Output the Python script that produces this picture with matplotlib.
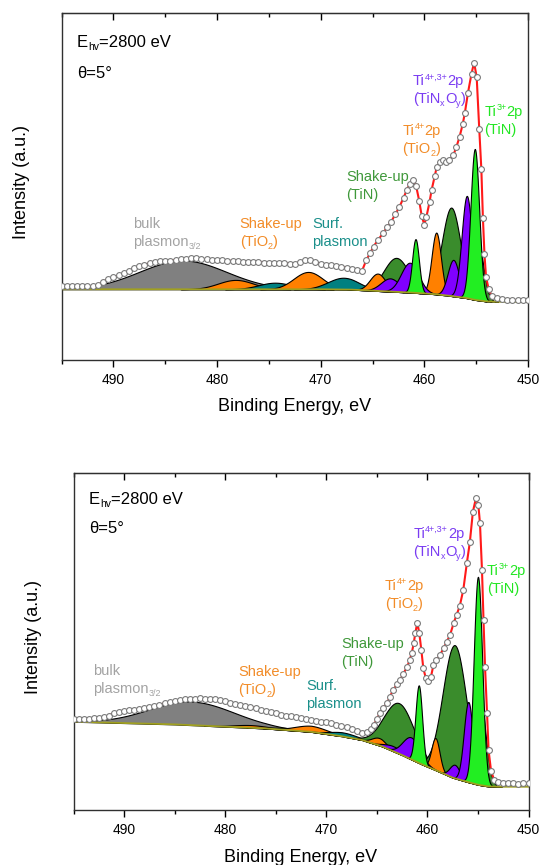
import numpy as np
import matplotlib.pyplot as plt
from matplotlib.ticker import MultipleLocator

plt.rcParams['font.family'] = ['Liberation Sans', 'DejaVu Sans']

# ---- measured spectra (binding energy, intensity in % of axis height) ----
e_top = [495.0, 494.5, 494.0, 493.5, 493.0, 492.5, 492.0, 491.5, 491.0, 490.5,
         490.0, 489.5, 489.0, 488.5, 488.0, 487.5, 487.0, 486.5, 486.0, 485.5,
         485.0, 484.5, 484.0, 483.5, 483.0, 482.5, 482.0, 481.5, 481.0, 480.5,
         480.0, 479.5, 479.0, 478.5, 478.0, 477.5, 477.0, 476.5, 476.0, 475.5,
         475.0, 474.5, 474.0, 473.5, 473.0, 472.5, 472.0, 471.5, 471.0, 470.5,
         470.0, 469.5, 469.0, 468.5, 468.0, 467.5, 467.0, 466.5, 466.0, 465.6,
         465.2, 464.9, 464.5, 464.0, 463.6, 463.2, 462.8, 462.4, 462.0, 461.7,
         461.4, 461.1, 460.8, 460.5, 460.25, 460.0, 459.8, 459.5, 459.3, 459.0,
         458.8, 458.5, 458.2, 457.9, 457.6, 457.2, 456.9, 456.6, 456.3, 456.1,
         455.8, 455.45, 455.2, 454.95, 454.7, 454.5, 454.35, 454.2, 454.05, 453.8,
         453.5, 453.0, 452.5, 452.0, 451.5, 451.0, 450.5, 450.0]
i_top = [21.3, 21.3, 21.2, 21.4, 21.3, 21.2, 21.4, 21.6, 22.6, 23.3,
         23.9, 24.4, 25.0, 25.7, 26.4, 27.0, 27.5, 27.9, 28.3, 28.5,
         28.6, 28.6, 28.9, 29.0, 29.1, 29.3, 29.3, 29.1, 29.0, 28.9,
         28.8, 28.7, 28.6, 28.6, 28.5, 28.4, 28.3, 28.3, 28.2, 28.1,
         28.0, 28.0, 27.9, 27.9, 27.8, 27.8, 28.2, 28.7, 28.8, 28.2,
         27.8, 27.5, 27.3, 27.0, 26.9, 26.6, 26.3, 26.0, 25.8, 28.8,
         31.0, 32.7, 34.5, 36.5, 38.3, 39.9, 42.0, 44.2, 46.8, 49.0,
         50.8, 51.9, 50.3, 46.0, 41.5, 39.0, 41.3, 45.5, 49.0, 53.0,
         55.7, 57.0, 57.6, 57.2, 57.6, 59.1, 61.5, 64.4, 68.0, 71.1,
         76.9, 82.6, 85.8, 81.6, 66.5, 55.0, 41.0, 30.5, 24.0, 20.5,
         18.5, 17.8, 17.5, 17.4, 17.3, 17.3, 17.4, 17.3]

e_bot = [495.0, 494.5, 494.0, 493.5, 493.0, 492.5, 492.0, 491.5, 491.0, 490.5,
         490.0, 489.5, 489.0, 488.5, 488.0, 487.5, 487.0, 486.5, 486.0, 485.5,
         485.0, 484.5, 484.0, 483.5, 483.0, 482.5, 482.0, 481.5, 481.0, 480.5,
         480.0, 479.5, 479.0, 478.5, 478.0, 477.5, 477.0, 476.5, 476.0, 475.5,
         475.0, 474.5, 474.0, 473.5, 473.0, 472.5, 472.0, 471.5, 471.0, 470.5,
         470.0, 469.5, 469.0, 468.5, 468.0, 467.5, 467.0, 466.5, 466.0, 465.6,
         465.3, 465.0, 464.7, 464.4, 464.0, 463.7, 463.4, 463.0, 462.7, 462.4,
         462.0, 461.75, 461.55, 461.35, 461.2, 461.0, 460.8, 460.6, 460.4, 460.15,
         459.9, 459.65, 459.4, 459.1, 458.75, 458.4, 458.1, 457.75, 457.4, 457.1,
         456.8, 456.45, 456.1, 455.8, 455.5, 455.2, 454.96, 454.8, 454.6, 454.45,
         454.3, 454.1, 453.95, 453.7, 453.4, 453.0, 452.5, 452.0, 451.5, 451.0,
         450.5, 450.0]
i_bot = [26.9, 27.0, 27.0, 27.1, 27.2, 27.2, 27.5, 28.0, 28.8, 29.1,
         29.4, 29.6, 29.8, 30.0, 30.2, 30.5, 30.8, 31.2, 31.7, 32.0,
         32.3, 32.6, 32.8, 32.9, 33.0, 33.1, 33.0, 32.9, 32.8, 32.5,
         32.2, 31.8, 31.5, 31.2, 30.9, 30.6, 30.2, 29.8, 29.5, 29.1,
         28.7, 28.3, 28.0, 27.8, 27.6, 27.3, 27.0, 26.7, 26.5, 26.2,
         26.0, 25.7, 25.3, 24.9, 24.5, 24.0, 23.4, 22.9, 23.2, 24.0,
         25.2, 27.0, 28.7, 30.2, 31.7, 33.6, 35.6, 37.3, 38.6, 40.3,
         42.5, 44.5, 46.5, 49.5, 52.4, 55.6, 52.5, 47.5, 42.0, 39.1,
         38.4, 39.5, 43.0, 44.5, 46.0, 48.0, 49.8, 52.0, 55.5, 58.0,
         60.5, 65.3, 73.2, 79.5, 88.5, 92.5, 90.5, 85.1, 71.2, 56.4,
         42.5, 28.7, 17.8, 11.5, 9.0, 8.3, 8.0, 7.9, 7.9, 7.8,
         7.9, 7.9]

# ---- background (read at a few energies) ----
bg_top_e = [495, 470, 467, 465, 463, 461, 459, 457.5, 456, 455, 454, 453, 450]
bg_top_v = [20.4, 20.4, 20.3, 20.0, 19.7, 19.4, 19.0, 18.5, 17.9, 17.3, 16.9, 16.8, 16.8]
bg_bot_e = [495, 485, 476, 471.5, 468.5, 466.5, 464.5, 462.5, 460.5, 459, 457.5, 456, 455, 454, 453, 450]
bg_bot_v = [26.2, 25.4, 24.2, 23.2, 21.9, 20.8, 18.9, 16.3, 13.5, 11.6, 9.6, 8.3, 7.5, 7.0, 6.9, 6.9]

# ---- fitted components: centre (eV), height, gaussian sigma (eV), kind; in drawing order ----
top_center = [483.3, 478.2, 474.4, 471.2, 467.8, 462.7, 457.4, 454.9, 464.5, 458.85,
              463.3, 461.4, 457.2, 455.9, 460.85, 455.13]
top_height = [8.3, 2.7, 1.9, 5.0, 3.4, 9.8, 25.5, 18.0, 5.0, 17.8,
              3.8, 8.6, 10.5, 29.5, 15.5, 43.5]
top_sigma = [4.2, 1.7, 1.6, 1.4, 1.5, 1.2, 0.9, 0.55, 0.75, 0.45,
             0.9, 0.85, 0.55, 0.5, 0.33, 0.42]
top_kind = ['gray', 'orange', 'teal', 'orange', 'teal', 'dkgreen', 'dkgreen', 'dkgreen', 'orange', 'orange',
            'purple', 'purple', 'purple', 'purple', 'green', 'green']

bot_center = [483.3, 477.5, 474.0, 471.5, 468.3, 462.8, 457.3, 454.9, 464.8, 459.2,
              463.4, 461.6, 457.3, 455.95, 460.85, 455.0]
bot_height = [7.0, 0.8, 0.6, 1.8, 1.2, 15.0, 39.5, 28.0, 2.2, 9.5,
              1.5, 6.5, 4.0, 23.8, 23.0, 61.7]
bot_sigma = [4.2, 1.7, 1.5, 1.6, 1.4, 1.5, 1.18, 0.6, 0.7, 0.4,
             0.9, 0.85, 0.5, 0.45, 0.33, 0.42]
bot_kind = top_kind

fill_colors = {'gray': '#808080', 'orange': '#ff8000', 'teal': '#008080',
               'dkgreen': '#3a8c2c', 'purple': '#8000ff', 'green': '#22ee22'}
text_colors = {'gray': '#a3a3a3', 'orange': '#f28c28', 'teal': '#1a8f8a',
               'dkgreen': '#3f983a', 'purple': '#7a3cf2', 'green': '#22e622'}

# label texts: lines made of (text, 'n' | 'sup' | 'sub') pieces
label_kind = ['gray', 'orange', 'teal', 'dkgreen', 'orange', 'purple', 'green']
label_lines = [
    [[('bulk', 'n')], [('plasmon', 'n'), ('3/2', 'sub')]],
    [[('Shake-up', 'n')], [('(TiO', 'n'), ('2', 'sub'), (')', 'n')]],
    [[('Surf.', 'n')], [('plasmon', 'n')]],
    [[('Shake-up', 'n')], [('(TiN)', 'n')]],
    [[('Ti', 'n'), ('4+', 'sup'), ('2p', 'n')], [('(TiO', 'n'), ('2', 'sub'), (')', 'n')]],
    [[('Ti', 'n'), ('4+,3+', 'sup'), ('2p', 'n')],
     [('(TiN', 'n'), ('x', 'sub'), ('O', 'n'), ('y', 'sub'), (')', 'n')]],
    [[('Ti', 'n'), ('3+', 'sup'), ('2p', 'n')], [('(TiN)', 'n')]],
]
# first-line baseline position (energy, intensity)
top_label_e = [488.1, 477.8, 470.85, 467.5, 462.1, 461.1, 454.2]
top_label_v = [38.0, 38.0, 38.0, 51.6, 64.8, 79.2, 70.3]
bot_label_e = [493.1, 478.7, 472.0, 468.5, 464.2, 461.4, 454.1]
bot_label_v = [40.1, 39.8, 35.6, 48.1, 65.3, 80.7, 69.7]

W, H = 542, 865
fig = plt.figure(figsize=(W / 100, H / 100), dpi=100)


def gauss(x, c, h, s):
    return h * np.exp(-0.5 * ((x - c) / s) ** 2)


def rich_line(ax, x, y, pieces, color, fs):
    first = ax.text(x, y, pieces[0][0], color=color, fontsize=fs, ha='left', va='baseline', zorder=6)
    prev = first
    for s, kind in pieces[1:]:
        if kind == 'n':
            size, dy = fs, 0
        elif kind == 'sup':
            size, dy = fs * 0.62, fs * 0.48
        else:
            size, dy = fs * 0.62, -fs * 0.12
        prev = ax.annotate(s, xy=(1, 0), xycoords=(prev, first), xytext=(0, dy),
                           textcoords='offset points', color=color, fontsize=size,
                           ha='left', va='bottom', zorder=6, annotation_clip=False)
    return first


def panel(rect, e, inten, bge, bgv, centers, heights, sigmas, kinds, lab_e, lab_v,
          info_v, ylab_xy, xlab_xy):
    l, t, r, b = rect
    ax = fig.add_axes([l / W, 1 - b / H, (r - l) / W, (b - t) / H])
    grid = np.linspace(450, 495, 1801)
    base = np.interp(grid, bge[::-1], bgv[::-1])
    for k, (c, h, s, kind) in enumerate(zip(centers, heights, sigmas, kinds)):
        y = gauss(grid, c, h, s)
        m = y > 0.02
        ax.fill_between(grid[m], base[m], base[m] + y[m], facecolor=fill_colors[kind],
                        edgecolor='black', linewidth=0.8, zorder=2 + k * 0.01)
    ax.plot(bge, bgv, color='#a0a020', lw=1.3, zorder=3)
    ax.plot(e, inten, color='#ff1a1a', lw=1.5, zorder=4)
    ax.plot(e, inten, 'o', ms=4.2, mfc='white', mec='#7a7a7a', mew=0.8, zorder=5)

    v_per_px = 100.0 / (b - t)
    pitch = 18 * v_per_px
    for lines, kind, x0, y0 in zip(label_lines, label_kind, lab_e, lab_v):
        for j, pieces in enumerate(lines):
            rich_line(ax, x0, y0 - j * pitch, pieces, text_colors[kind], 10.5)

    rich_line(ax, 493.5, info_v[0], [('E', 'n'), ('hv', 'sub'), ('=2800 eV', 'n')], 'black', 12)
    ax.text(493.5, info_v[1], '\u03b8=5\u00b0', fontsize=12, ha='left', va='baseline')

    ax.set_xlim(495, 450)
    ax.set_ylim(0, 100)
    ax.set_yticks([])
    ax.xaxis.set_major_locator(MultipleLocator(10))
    ax.xaxis.set_minor_locator(MultipleLocator(5))
    ax.tick_params(axis='x', which='major', direction='out', length=5, width=1, labelsize=10, pad=4)
    ax.tick_params(axis='x', which='minor', direction='out', length=3, width=1)
    for sp in ax.spines.values():
        sp.set_linewidth(1.0)
        sp.set_color('#303030')
    top = ax.secondary_xaxis('top')
    top.xaxis.set_major_locator(MultipleLocator(10))
    top.xaxis.set_minor_locator(MultipleLocator(5))
    top.tick_params(axis='x', which='major', direction='in', length=5, width=1, labeltop=False)
    top.tick_params(axis='x', which='minor', direction='in', length=3, width=1)

    fig.text(ylab_xy[0] / W, 1 - ylab_xy[1] / H, 'Intensity (a.u.)', rotation=90,
             fontsize=13, ha='center', va='center')
    fig.text(xlab_xy[0] / W, 1 - xlab_xy[1] / H, 'Binding Energy, eV',
             fontsize=13, ha='center', va='baseline')
    return ax


panel((61.5, 13.3, 528, 360), e_top, i_top, bg_top_e, bg_top_v,
      top_center, top_height, top_sigma, top_kind, top_label_e, top_label_v,
      (90.2, 81.3), (22, 182), (295, 411))
panel((73.5, 473, 528.5, 810), e_bot, i_bot, bg_bot_e, bg_bot_v,
      bot_center, bot_height, bot_sigma, bot_kind, bot_label_e, bot_label_v,
      (90.8, 82.2), (34, 637), (301, 862))

fig.savefig('out.png', dpi=100)
